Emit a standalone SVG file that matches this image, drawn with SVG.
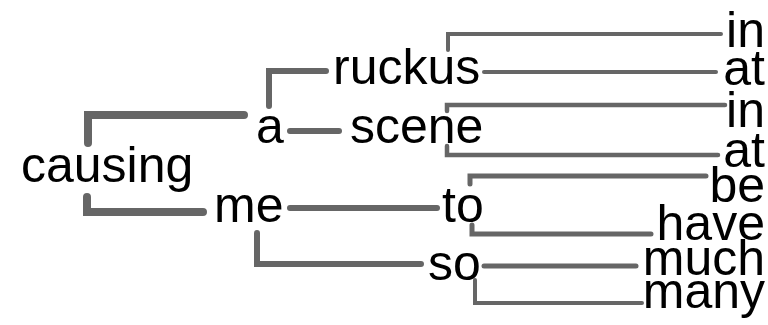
<svg xmlns="http://www.w3.org/2000/svg" width="768" height="325" viewBox="0 0 768 325">
<style>
text{font-family:"Liberation Sans",Arial,Helvetica,sans-serif;font-size:50px;fill:#000}
.leaf{text-anchor:end}
.e{fill:none;stroke:#666;stroke-linecap:round;stroke-linejoin:miter}
</style>
<rect width="768" height="325" fill="#fff"/>
<g id="connectors">
<path class="e" stroke-width="8" d="M88,143 V115 H244"/>
<path class="e" stroke-width="8" d="M87,197 V212 H203"/>
<path class="e" stroke-width="6" d="M269,106 V71 H326"/>
<path class="e" stroke-width="6" d="M290,131 H339"/>
<path class="e" stroke-width="4" d="M448,50 V34 H721"/>
<path class="e" stroke-width="4" d="M484,72 H716"/>
<path class="e" stroke-width="4.5" d="M447,111 V105 H725"/>
<path class="e" stroke-width="4.5" d="M447,146 V155 H718"/>
<path class="e" stroke-width="6" d="M290,208 H437"/>
<path class="e" stroke-width="6" d="M257,233 V264 H421"/>
<path class="e" stroke-width="5" d="M470,184 V176 H706"/>
<path class="e" stroke-width="5" d="M472,225 V234 H651"/>
<path class="e" stroke-width="5" d="M484,266 H636"/>
<path class="e" stroke-width="4" d="M475,280 V303 H642"/>
</g>
<g id="causing"><text x="21" y="182">causing</text></g>
<g id="a"><text x="256" y="143">a</text></g>
<g id="ruckus"><text x="333" y="84">ruckus</text></g>
<g id="scene"><text x="350" y="143">scene</text></g>
<g id="me"><text x="214" y="222">me</text></g>
<g id="to"><text x="442" y="222">to</text></g>
<g id="so"><text x="428" y="280">so</text></g>
<g id="in1"><text class="leaf" x="765" y="47">in</text></g>
<g id="at1"><text class="leaf" x="765" y="85">at</text></g>
<g id="in2"><text class="leaf" x="765" y="127">in</text></g>
<g id="at2"><text class="leaf" x="765" y="167">at</text></g>
<g id="be"><text class="leaf" x="765" y="202">be</text></g>
<g id="have"><text class="leaf" x="765" y="240">have</text></g>
<g id="much"><text class="leaf" x="765" y="275">much</text></g>
<g id="many"><text class="leaf" x="765" y="308">many</text></g>
</svg>
